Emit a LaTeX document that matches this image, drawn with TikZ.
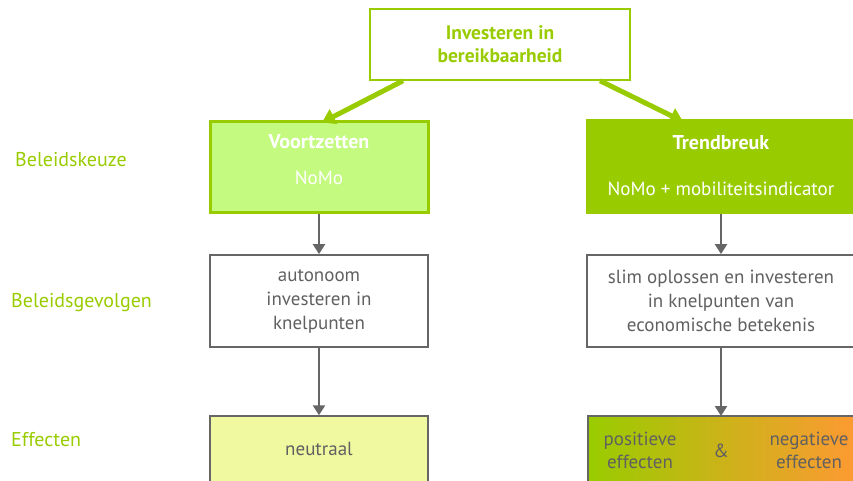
\documentclass[tikz,border=0pt]{standalone}
\usepackage{fontspec}
\setmainfont{PT Sans}
\usetikzlibrary{arrows.meta}
\definecolor{lgreen}{HTML}{99CC00}
\definecolor{pale}{HTML}{C4FA80}
\definecolor{yel}{HTML}{F0F8A0}
\definecolor{org}{HTML}{FF9933}
\definecolor{txtgray}{HTML}{606060}
\definecolor{linegray}{HTML}{666666}
\tikzset{
  box/.style={draw, rectangle, minimum width=218pt, minimum height=92pt, inner sep=0pt, align=center, font=\fontsize{19}{24}\selectfont},
  graybox/.style={box, draw=linegray, line width=1.8pt, text=txtgray},
  lab/.style={anchor=west, text=lgreen, inner sep=0pt, font=\fontsize{20}{22}\selectfont},
  efftext/.style={text=txtgray, align=center, font=\fontsize{19}{23}\selectfont},
  garrow/.style={draw=lgreen, line width=5pt, -{Triangle[length=13pt,width=16pt]}},
  darrow/.style={draw=linegray, line width=2.5pt, -{Triangle[length=10pt,width=12pt]}},
}
\begin{document}
\begin{tikzpicture}[x=1pt,y=-1pt]
\useasboundingbox (0,0) rectangle (853,480);
\clip (0,0) rectangle (853,480);
% top
\node[box, draw=lgreen, line width=1.5pt, fill=white, minimum width=260pt, minimum height=71pt, text=lgreen, font=\fontsize{19.5}{23}\selectfont\bfseries] (top) at (500,44.5) {Investeren in\\bereikbaarheid};
% row 1
\node[box, draw=lgreen, line width=3pt, fill=pale, minimum height=91pt] (v) at (319,166.5) {};
\node[align=center, text=white, inner sep=0pt, font=\fontsize{19}{24}\selectfont] (vt) at ([yshift=6.5pt]v.center) {{\fontsize{20}{24}\selectfont\bfseries Voortzetten}\\[12pt]NoMo};
\node[box, draw=lgreen, line width=3pt, fill=lgreen, minimum width=268pt, minimum height=92pt, text=white] (t) at (721,166) {{\fontsize{20}{24}\selectfont\bfseries Trendbreuk}\\[22pt]NoMo + mobiliteitsindicator};
% row 2
\node[graybox] (a) at (319,301) {autonoom\\investeren in\\knelpunten};
\node[graybox, minimum width=268pt] (s) at (721,301) {slim oplossen en investeren\\in knelpunten van\\economische betekenis};
% row 3
\node[graybox, line width=1.5pt, fill=yel, minimum height=100pt] (n) at (319,466) {};
\node[efftext] (nt) at (319,449) {neutraal};
\shade[left color=lgreen, right color=org, draw=linegray, line width=1.5pt] (588,416) rectangle (860,520);
\node[efftext] (p) at (640,450) {positieve\\effecten};
\node[efftext] (amp) at (721,451) {\&};
\node[efftext] (ng) at (809,450) {negatieve\\effecten};
\coordinate (e) at (721,416);
% labels
\node[lab] (l1) at (15,160) {Beleidskeuze};
\node[lab] (l2) at (11,303) {Beleidsgevolgen};
\node[lab] (l3) at (11,440) {Effecten};
% arrows
\draw[garrow] ([xshift=-97pt]top.south) -- ([xshift=3pt,yshift=-3pt]v.north);
\draw[garrow] ([xshift=100pt]top.south) -- ([xshift=-38pt,yshift=-3pt]t.north);
\draw[darrow] (v.south) -- (a.north);
\draw[darrow] (a.south) -- (n.north);
\draw[darrow] (t.south) -- (s.north);
\draw[darrow] (s.south) -- (e);
\end{tikzpicture}
\end{document}
